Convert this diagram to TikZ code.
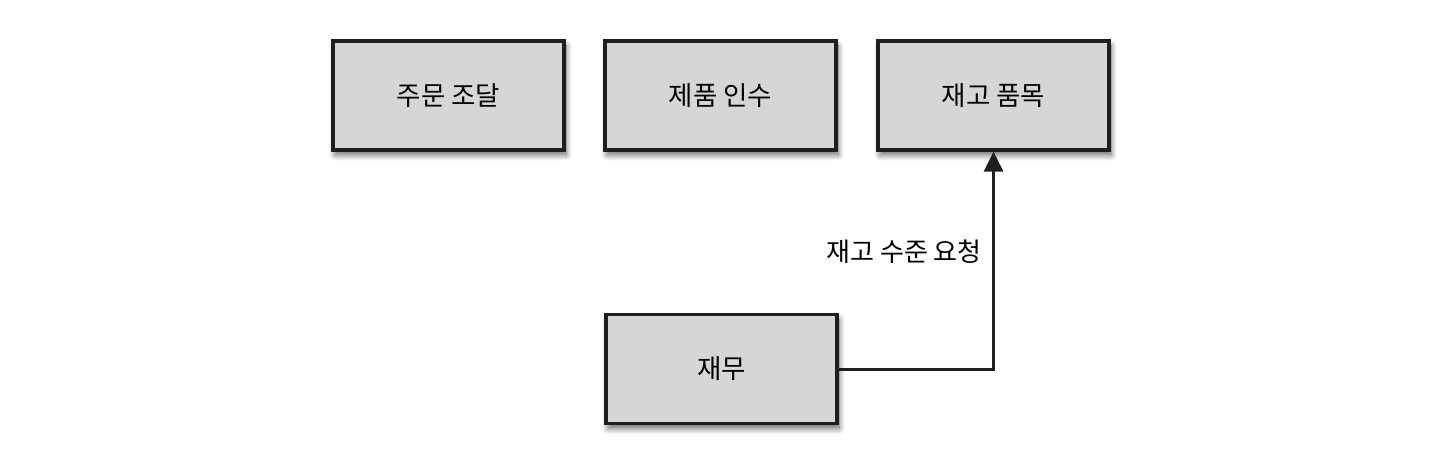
\documentclass[tikz,border=0pt]{standalone}
\usepackage{fontspec}
\newfontfamily\kr{Noto Sans CJK KR}
\usetikzlibrary{arrows.meta,shadows.blur}
\begin{document}
\begin{tikzpicture}[x=1pt,y=1pt,
  box/.style={draw=black!88, line width=3.2pt, fill=black!16, minimum width=231pt, minimum height=109pt, inner sep=0pt, font=\kr\fontsize{26.5}{30}\selectfont, blur shadow={shadow xshift=2pt, shadow yshift=-5pt, shadow blur steps=10, shadow blur radius=6pt, shadow opacity=60}},
  conn/.style={draw=black!88, line width=3pt, -{Triangle[length=20pt,width=19pt]}},
  lbl/.style={font=\kr\fontsize{26}{30}\selectfont, inner sep=0pt}]
\useasboundingbox (0,0) rectangle (1443,467);
\node[box] (a) at (448.5,371.5) {주문 조달};
\node[box] (b) at (720.5,371.5) {제품 인수};
\node[box] (c) at (993.5,371.5) {재고 품목};
\node[box] (d) at (721.5,98) {재무};
\coordinate (k) at (c.south |- d.east);
\draw[conn] (d.east) -- (k) -- (c.south);
\node[lbl, anchor=east] (l) at (982,215) {재고 수준 요청};
\end{tikzpicture}
\end{document}
